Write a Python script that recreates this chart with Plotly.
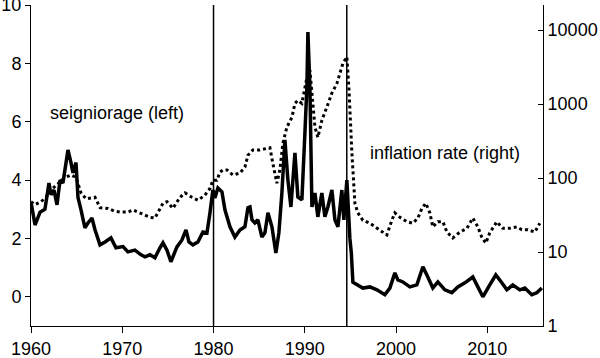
import plotly.graph_objects as go

# Seigniorage (% , left axis)
seig_year = [1960.00, 1960.44, 1960.99, 1961.53, 1961.97, 1962.19, 1962.52, 1962.85, 1963.18, 1963.50,
             1963.72, 1964.05, 1964.38, 1964.60, 1964.93, 1965.15, 1965.48, 1965.91, 1966.24, 1966.68,
             1967.01, 1967.56, 1968.11, 1968.76, 1969.31, 1970.08, 1970.62, 1971.39, 1972.05, 1972.49,
             1973.03, 1973.58, 1974.13, 1974.46, 1974.90, 1975.33, 1975.99, 1976.54, 1976.98, 1977.31,
             1977.74, 1978.29, 1978.84, 1979.28, 1979.61, 1979.93, 1980.15, 1980.48, 1980.92, 1981.25,
             1981.80, 1982.34, 1982.89, 1983.44, 1983.77, 1983.99, 1984.21, 1984.53, 1984.86, 1985.30,
             1985.63, 1985.96, 1986.40, 1986.83, 1987.16, 1987.49, 1987.82, 1988.15, 1988.48, 1988.92,
             1989.24, 1989.68, 1990.01, 1990.23, 1990.34, 1990.56, 1990.78, 1991.11, 1991.43, 1991.87,
             1992.20, 1992.53, 1992.97, 1993.30, 1993.63, 1994.06, 1994.28, 1994.61, 1994.94, 1995.10,
             1995.27, 1995.81, 1996.36, 1997.13, 1997.90, 1998.77, 1999.32, 1999.87, 2000.20, 2000.74,
             2001.51, 2002.28, 2002.94, 2003.48, 2004.03, 2004.58, 2005.13, 2005.35, 2006.11, 2006.77,
             2007.54, 2008.41, 2008.96, 2009.51, 2010.27, 2010.93, 2011.59, 2012.14, 2012.79, 2013.56,
             2014.11, 2014.87, 2015.42, 2015.97]
seig_val = [3.25, 2.46, 2.90, 3.00, 3.90, 3.50, 3.66, 3.15, 4.00, 3.90,
            4.35, 5.03, 4.60, 4.25, 4.60, 3.40, 2.98, 2.36, 2.53, 2.70,
            2.30, 1.78, 1.88, 2.02, 1.68, 1.72, 1.54, 1.60, 1.44, 1.37,
            1.44, 1.34, 1.68, 1.85, 1.60, 1.20, 1.71, 1.95, 2.29, 1.88,
            1.78, 1.88, 2.22, 2.19, 2.88, 3.66, 3.39, 3.73, 3.60, 2.98,
            2.40, 2.05, 2.29, 2.40, 3.05, 3.08, 2.64, 2.53, 2.64, 2.05,
            2.19, 2.88, 2.40, 1.50, 2.19, 3.56, 5.38, 4.00, 3.08, 4.93,
            3.42, 3.32, 5.60, 7.20, 9.07, 7.20, 3.08, 3.56, 2.74, 3.56,
            2.74, 3.08, 3.66, 2.64, 2.40, 3.66, 2.64, 4.00, 2.00, 1.50,
            0.50, 0.41, 0.30, 0.34, 0.24, 0.07, 0.30, 0.82, 0.58, 0.51,
            0.34, 0.41, 1.03, 0.68, 0.30, 0.51, 0.30, 0.24, 0.14, 0.34,
            0.48, 0.68, 0.34, 0.00, 0.41, 0.75, 0.48, 0.24, 0.41, 0.24,
            0.30, 0.07, 0.14, 0.30]

# Inflation rate (% , right log axis)
infl_year = [1960.00, 1960.44, 1961.10, 1961.64, 1962.19, 1962.96, 1963.72, 1964.38, 1964.93, 1965.48,
             1966.02, 1967.01, 1967.56, 1968.43, 1969.20, 1969.75, 1970.62, 1971.17, 1971.93, 1972.49,
             1973.03, 1973.58, 1974.13, 1974.46, 1974.90, 1975.55, 1976.32, 1976.87, 1977.63, 1978.29,
             1979.06, 1979.61, 1979.93, 1980.37, 1980.70, 1981.03, 1981.47, 1982.12, 1982.89, 1983.44,
             1983.77, 1984.31, 1985.08, 1986.18, 1986.50, 1986.94, 1987.27, 1987.60, 1988.04, 1988.59,
             1988.92, 1989.24, 1989.68, 1989.79, 1990.23, 1990.56, 1990.89, 1991.11, 1991.43, 1991.87,
             1992.42, 1992.97, 1993.52, 1993.85, 1994.17, 1994.61, 1994.83, 1995.16, 1995.49, 1995.81,
             1996.36, 1997.13, 1997.90, 1998.55, 1998.99, 1999.54, 1999.87, 2000.42, 2001.18, 2001.84,
             2002.39, 2002.83, 2003.26, 2003.70, 2004.03, 2004.58, 2005.13, 2005.57, 2006.22, 2006.99,
             2007.76, 2008.41, 2008.96, 2009.40, 2009.83, 2010.27, 2011.04, 2011.70, 2012.47, 2013.23,
             2013.78, 2014.44, 2015.20, 2015.75]
infl_val = [47.9, 43.7, 47.9, 55.0, 69.2, 85.1, 102, 110, 102, 63.1,
            52.5, 55.0, 39.8, 38.9, 35.5, 34.7, 34.7, 37.2, 33.9, 31.6,
            29.5, 28.8, 38.0, 45.7, 47.9, 38.9, 55.0, 63.1, 55.0, 50.1,
            58.9, 72.4, 93.3, 93.3, 120, 129, 129, 110, 117, 141,
            204, 240, 240, 257, 158, 85.1, 129, 295, 490, 661,
            1023, 1122, 1023, 1230, 2291, 2884, 1023, 490, 355, 603,
            912, 1413, 1905, 2630, 3548, 4365, 1698, 219, 45.7, 33.9,
            26.9, 24.5, 20.9, 18.6, 17.0, 26.9, 33.9, 29.5, 25.7, 24.5,
            28.8, 38.9, 45.7, 33.9, 21.9, 25.7, 25.7, 18.6, 15.5, 18.6,
            20.9, 28.8, 21.9, 15.8, 13.2, 18.2, 25.7, 20.9, 20.9, 21.9,
            20.0, 20.0, 18.6, 24.5]

# Structural breaks (vertical lines)
break_years = [1980.0, 1994.6]

x_ticks = [1960, 1970, 1980, 1990, 2000, 2010]
left_ticks = [0, 2, 4, 6, 8, 10]
right_ticks = [1, 10, 100, 1000, 10000]
right_labels = ["1", "10", "100", "1000", "10000"]

FONT = "Liberation Sans"

fig = go.Figure()
fig.add_trace(go.Scatter(x=infl_year, y=infl_val, yaxis="y2", mode="lines",
                         line=dict(color="black", width=3, dash="3px,3px"),
                         showlegend=False, hoverinfo="skip"))
fig.add_trace(go.Scatter(x=seig_year, y=seig_val, yaxis="y", mode="lines",
                         line=dict(color="black", width=3.5),
                         showlegend=False, hoverinfo="skip"))

for by in break_years:
    fig.add_shape(type="line", xref="x", yref="paper", x0=by, x1=by, y0=0, y1=1,
                  line=dict(color="black", width=1.5))

fig.add_annotation(x=1961.86, y=6.3, xref="x", yref="y", text="seigniorage (left)",
                   showarrow=False, xanchor="left", yanchor="middle",
                   font=dict(family=FONT, size=18, color="black"))
fig.add_annotation(x=1996.9, y=4.93, xref="x", yref="y", text="inflation rate (right)",
                   showarrow=False, xanchor="left", yanchor="middle",
                   font=dict(family=FONT, size=18, color="black"))

fig.update_layout(
    width=600, height=358,
    margin=dict(l=31, r=57, t=5, b=32, autoexpand=False),
    plot_bgcolor="white", paper_bgcolor="white",
    font=dict(family=FONT, size=18, color="black"),
    xaxis=dict(range=[1960, 2016.1], tickvals=x_ticks, ticks="outside", ticklen=6,
               tickcolor="black", showline=True, linecolor="black", linewidth=1,
               showgrid=False, zeroline=False, tickfont=dict(size=18), automargin=False,
               ticklabeloverflow="allow"),
    yaxis=dict(range=[-1, 10], tickvals=left_ticks, ticks="outside", ticklen=5,
               tickcolor="black", showline=True, linecolor="black", linewidth=1,
               showgrid=False, zeroline=False, tickfont=dict(size=18), automargin=False,
               ticklabeloverflow="allow"),
    yaxis2=dict(type="log", range=[0, 4.34], overlaying="y", side="right",
                tickvals=right_ticks, ticktext=right_labels, ticks="inside", ticklen=5,
                tickcolor="black", showline=True, linecolor="black", linewidth=1,
                showgrid=False, zeroline=False, tickfont=dict(size=18), automargin=False,
                ticklabeloverflow="allow"),
)

fig.write_html("out.html", config={"displayModeBar": False},
               post_script="document.body.style.margin='0';document.body.style.overflow='hidden';")
